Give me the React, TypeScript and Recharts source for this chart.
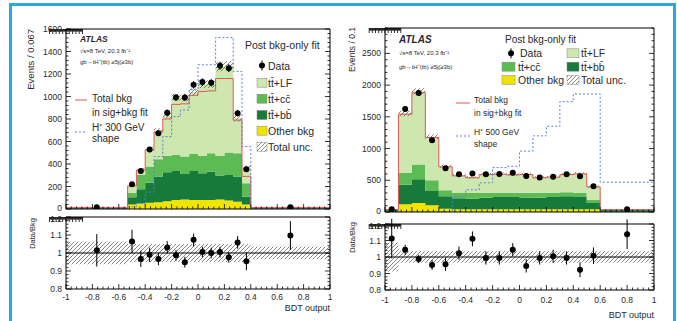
import React from 'react';
import { ComposedChart, Area, Line, Scatter, ErrorBar, XAxis, YAxis, ReferenceLine } from 'recharts';

const FONT = '"Liberation Sans", Arial, Helvetica, sans-serif';
const W = 677;
const H = 321;

const C_LF = '#cde7ae';
const C_CC = '#5cbb52';
const C_BB = '#177a3b';
const C_OTHER = '#f1e500';
const C_RED = '#e0585a';
const C_SIG = '#5d7fd6';
const INK = '#2a2a2a';

// ---------------- Left panel (H+ 300 GeV) ----------------
const leftEdges = [-1, -0.5333, -0.4667, -0.4, -0.3333, -0.2667, -0.2, -0.1333, -0.0667, 0, 0.0667, 0.1333, 0.2, 0.2667, 0.3333, 0.4, 1];
const leftOther = [2, 40, 50, 55, 60, 70, 80, 85, 80, 80, 80, 85, 75, 65, 40, 2];
const leftTtbb = [8, 64, 125, 179, 228, 256, 258, 227, 258, 238, 252, 212, 228, 223, 70, 8];
const leftTtcc = [2, 41, 128, 143, 154, 146, 143, 154, 152, 154, 164, 175, 199, 208, 119, 2];
const leftTtlf = [3, 62, 47, 156, 256, 358, 514, 519, 550, 638, 614, 793, 773, 308, 143, 3];
const leftUnc = [2, 8, 12, 16, 20, 24, 30, 30, 32, 35, 35, 40, 40, 28, 14, 2];
const leftSigBkg = [14, 205, 345, 525, 685, 800, 930, 935, 1010, 1045, 1050, 1160, 1160, 790, 290, 14];
const leftSignal = [0, 20, 50, 150, 466, 644, 822, 880, 1060, 1282, 1282, 1525, 1525, 1223, 555, 0];
const leftPointsX = [-0.7667, -0.5, -0.4333, -0.3667, -0.3, -0.2333, -0.1667, -0.1, -0.0333, 0.0333, 0.1, 0.1667, 0.2333, 0.3, 0.3667, 0.7];
const leftData = [15, 220, 338, 528, 674, 855, 991, 991, 1104, 1128, 1122, 1273, 1252, 852, 353, 15];
const leftDataErr = [6, 15, 18, 23, 26, 29, 31, 31, 33, 34, 33, 36, 35, 29, 19, 6];
const leftRatio = [1.015, 1.064, 0.967, 0.99, 0.967, 1.031, 0.987, 0.949, 1.073, 1.005, 1.0, 1.005, 0.976, 1.059, 0.954, 1.097];
const leftRatioErr = [0.09, 0.065, 0.045, 0.04, 0.035, 0.035, 0.03, 0.03, 0.035, 0.03, 0.03, 0.03, 0.03, 0.035, 0.05, 0.08];
const leftRatioUnc = [0.062, 0.05, 0.05, 0.05, 0.05, 0.05, 0.05, 0.05, 0.05, 0.05, 0.05, 0.05, 0.05, 0.05, 0.05, 0.035];

// ---------------- Right panel (H+ 500 GeV) ----------------
const rightEdges = [-1, -0.9, -0.8, -0.7, -0.6, -0.5, -0.4, -0.3, -0.2, -0.1, 0, 0.1, 0.2, 0.3, 0.4, 0.5, 0.6, 1];
const rightOther = [3, 121, 142, 105, 50, 45, 45, 45, 45, 45, 45, 45, 45, 45, 45, 45, 3];
const rightTtbb = [27, 310, 373, 226, 197, 171, 165, 181, 192, 192, 185, 181, 192, 202, 192, 97, 27];
const rightTtcc = [4, 184, 232, 169, 95, 84, 90, 79, 68, 68, 75, 79, 68, 63, 68, 53, 4];
const rightTtlf = [4, 941, 1153, 687, 379, 281, 245, 293, 299, 289, 295, 240, 250, 288, 305, 207, 3];
const rightUnc = [3, 45, 50, 35, 22, 18, 18, 18, 18, 18, 18, 18, 18, 18, 18, 14, 3];
const rightSigBkg = [36, 1540, 1880, 1175, 712, 570, 540, 590, 595, 585, 590, 540, 548, 590, 600, 395, 36];
const rightSignal = [0, 0, 0, 0, 0, 240, 350, 460, 700, 720, 960, 1200, 1350, 1740, 1860, 1860, 470];
const rightPointsX = [-0.95, -0.85, -0.75, -0.65, -0.55, -0.45, -0.35, -0.25, -0.15, -0.05, 0.05, 0.15, 0.25, 0.35, 0.45, 0.55, 0.8];
const rightData = [42, 1625, 1877, 1130, 689, 594, 605, 594, 600, 620, 568, 542, 557, 594, 563, 405, 42];
const rightDataErr = [7, 40, 43, 34, 26, 24, 25, 24, 24, 25, 24, 23, 24, 24, 24, 20, 7];
const rightRatio = [1.112, 1.044, 0.988, 0.952, 0.956, 1.023, 1.11, 0.994, 0.994, 1.044, 0.946, 0.994, 1.004, 0.994, 0.923, 1.008, 1.138];
const rightRatioErr = [0.12, 0.03, 0.025, 0.03, 0.04, 0.04, 0.045, 0.04, 0.04, 0.04, 0.04, 0.04, 0.04, 0.04, 0.045, 0.05, 0.09];
const rightRatioUnc = [0.088, 0.035, 0.035, 0.035, 0.035, 0.035, 0.035, 0.035, 0.035, 0.035, 0.035, 0.035, 0.035, 0.035, 0.035, 0.035, 0.035];

// ---------------- Axis tick labels ----------------
const xTickLabels = [-1, -0.8, -0.6, -0.4, -0.2, 0, 0.2, 0.4, 0.6, 0.8, 1];
const leftYTickLabels = [0, 200, 400, 600, 800, 1000, 1200, 1400, 1600];
const rightYTickLabels = [0, 500, 1000, 1500, 2000, 2500];
const ratioYTickLabels = [0.8, 0.9, 1, 1.1, 1.2];

function steps(a: number, b: number, s: number): number[] {
  const out: number[] = [];
  const n = Math.round((b - a) / s);
  for (let i = 0; i <= n; i++) out.push(Math.round((a + i * s) * 1e6) / 1e6);
  return out;
}
const xTicksAll = steps(-1, 1, 0.04);
const leftYTicksAll = steps(0, 1600, 40);
const rightYTicksAll = steps(0, 2900, 100);
const ratioYTicksAll = steps(0.8, 1.2, 0.02);

const sum4 = (a: number[], b: number[], c: number[], d: number[]) => a.map((v, i) => v + b[i] + c[i] + d[i]);
const leftTotal = sum4(leftOther, leftTtbb, leftTtcc, leftTtlf);
const rightTotal = sum4(rightOther, rightTtbb, rightTtcc, rightTtlf);

function buildRows(edges: number[], cols: Record<string, number[]>) {
  const rows: any[] = [];
  for (let i = 0; i < edges.length; i++) {
    const bin = Math.min(i, edges.length - 2);
    const row: any = { x: edges[i] };
    for (const k of Object.keys(cols)) row[k] = cols[k][bin];
    rows.push(row);
  }
  return rows;
}

const leftRows = buildRows(leftEdges, {
  other: leftOther, ttbb: leftTtbb, ttcc: leftTtcc, ttlf: leftTtlf,
  sigbkg: leftSigBkg, signal: leftSignal,
  uncLo: leftTotal.map((t, i) => t - leftUnc[i]), uncBand: leftUnc.map((u) => 2 * u),
});
const rightRows = buildRows(rightEdges, {
  other: rightOther, ttbb: rightTtbb, ttcc: rightTtcc, ttlf: rightTtlf,
  sigbkg: rightSigBkg, signal: rightSignal,
  uncLo: rightTotal.map((t, i) => t - rightUnc[i]), uncBand: rightUnc.map((u) => 2 * u),
});
const leftRatioRows = buildRows(leftEdges, {
  uncLo: leftRatioUnc.map((u) => 1 - u), uncBand: leftRatioUnc.map((u) => 2 * u),
});
const rightRatioRows = buildRows(rightEdges, {
  uncLo: rightRatioUnc.map((u) => 1 - u), uncBand: rightRatioUnc.map((u) => 2 * u),
});
const leftPoints = leftPointsX.map((x, i) => ({ x, y: leftData[i], e: leftDataErr[i] }));
const rightPoints = rightPointsX.map((x, i) => ({ x, y: rightData[i], e: rightDataErr[i] }));
const leftRatioPoints = leftPointsX.map((x, i) => ({ x, y: leftRatio[i], e: leftRatioErr[i] }));
const rightRatioPoints = rightPointsX.map((x, i) => ({ x, y: rightRatio[i], e: rightRatioErr[i] }));

type Box = { x0: number; x1: number; y0: number; y1: number };
const LT: Box = { x0: 66, x1: 330, y0: 29, y1: 209 };
const LR: Box = { x0: 66, x1: 330, y0: 217, y1: 289 };
const RT: Box = { x0: 385, x1: 654, y0: 28, y1: 212 };
const RR: Box = { x0: 385, x1: 654, y0: 224, y1: 290 };

// labelShift: [value, dy] pairs nudging edge labels so stacked panels' labels do not collide
function tickFn(kind: 'bottom' | 'top' | 'left' | 'right', majors: number[], label: boolean, off = 10, fs = 8.5, shift: number[] = []) {
  const isMaj = (v: number) => majors.some((m) => Math.abs(m - v) < 1e-6);
  return (p: any) => {
    const v = p.payload ? p.payload.value : 0;
    const maj = isMaj(v);
    const len = maj ? 5 : 2.5;
    const x = p.x;
    const y = p.y;
    let l: any = null;
    let t: any = null;
    if (kind === 'bottom') {
      l = <line x1={x} x2={x} y1={y} y2={y - len} stroke="#000" strokeWidth={0.8} />;
      if (label && maj) t = <text x={x} y={y + off} textAnchor="middle" fontSize={fs} fill={INK} fontFamily={FONT}>{String(v)}</text>;
    } else if (kind === 'top') {
      l = <line x1={x} x2={x} y1={y} y2={y + len} stroke="#000" strokeWidth={0.8} />;
    } else if (kind === 'left') {
      l = <line x1={x} x2={x + len} y1={y} y2={y} stroke="#000" strokeWidth={0.8} />;
      const dy = shift.length === 2 && Math.abs(shift[0] - v) < 1e-6 ? shift[1] : 0;
      if (label && maj) t = <text x={x - 4} y={y + 3 + dy} textAnchor="end" fontSize={fs} fill={INK} fontFamily={FONT}>{String(v)}</text>;
    } else {
      l = <line x1={x} x2={x - len} y1={y} y2={y} stroke="#000" strokeWidth={0.8} />;
    }
    return <g>{l}{t}</g>;
  };
}

function axes(box: Box, yDomain: number[], yMaj: number[], yAll: number[], showX: boolean, xOff: number, shift: number[]) {
  return [
    <XAxis key="xb" xAxisId="b" dataKey="x" type="number" domain={[-1, 1]} allowDataOverflow ticks={xTicksAll} interval={0}
      height={H - box.y1} tickSize={0} tickMargin={0} tickLine={false} axisLine={{ stroke: '#000', strokeWidth: 1 }}
      tick={tickFn('bottom', xTickLabels, showX, xOff)} />,
    <XAxis key="xt" xAxisId="t" orientation="top" type="number" domain={[-1, 1]} allowDataOverflow ticks={xTicksAll} interval={0}
      height={box.y0} tickSize={0} tickMargin={0} tickLine={false} axisLine={{ stroke: '#000', strokeWidth: 1 }}
      tick={tickFn('top', xTickLabels, false)} />,
    <YAxis key="yl" yAxisId="l" type="number" domain={yDomain} allowDataOverflow ticks={yAll} interval={0}
      width={box.x0} tickSize={0} tickMargin={0} tickLine={false} axisLine={{ stroke: '#000', strokeWidth: 1 }}
      tick={tickFn('left', yMaj, true, 10, 8.5, shift)} />,
    <YAxis key="yr" yAxisId="r" orientation="right" type="number" domain={yDomain} allowDataOverflow ticks={yAll} interval={0}
      width={W - box.x1} tickSize={0} tickMargin={0} tickLine={false} axisLine={{ stroke: '#000', strokeWidth: 1 }}
      tick={tickFn('right', yMaj, false)} />,
  ];
}

const dotShape = (p: any) => <circle cx={p.cx} cy={p.cy} r={3} fill="#000" />;

function hatchDef(id: string) {
  return (
    <defs>
      <pattern id={id} patternUnits="userSpaceOnUse" width="4" height="4">
        <path d="M-1,1 l2,-2 M0,4 l4,-4 M3,5 l2,-2" stroke="#555" strokeWidth="0.7" />
      </pattern>
    </defs>
  );
}

const CP = { xAxisId: 'b', yAxisId: 'l', isAnimationActive: false, type: 'stepAfter' as const };

function stackSeries(hatchId: string) {
  return [
    <Area key="o" {...CP} stackId="s" dataKey="other" fill={C_OTHER} fillOpacity={1} stroke="none" />,
    <Area key="b" {...CP} stackId="s" dataKey="ttbb" fill={C_BB} fillOpacity={1} stroke="none" />,
    <Area key="c" {...CP} stackId="s" dataKey="ttcc" fill={C_CC} fillOpacity={1} stroke="none" />,
    <Area key="l" {...CP} stackId="s" dataKey="ttlf" fill={C_LF} fillOpacity={1} stroke="none" />,
    <Area key="u0" {...CP} stackId="u" dataKey="uncLo" fill="none" fillOpacity={0} stroke="none" />,
    <Area key="u1" {...CP} stackId="u" dataKey="uncBand" fill={`url(#${hatchId})`} fillOpacity={1} stroke="none" />,
    <Line key="r" {...CP} dataKey="sigbkg" stroke={C_RED} strokeWidth={1} dot={false} />,
    <Line key="s" {...CP} dataKey="signal" stroke={C_SIG} strokeWidth={1} strokeDasharray="2 2" dot={false} />,
  ];
}

function TopChart({ rows, points, box, yMax, yMaj, yAll, hatchId }: any) {
  return (
    <div style={{ position: 'absolute', left: 0, top: 0 }}>
      <ComposedChart width={W} height={H} data={rows} margin={{ top: 0, right: 0, bottom: 0, left: 0 }}>
        {hatchDef(hatchId)}
        {axes(box, [0, yMax], yMaj, yAll, false, 0, [0, -1.5])}
        {stackSeries(hatchId)}
        <Scatter xAxisId="b" yAxisId="l" data={points} dataKey="y" isAnimationActive={false} shape={dotShape}>
          <ErrorBar dataKey="e" direction="y" width={0} stroke="#000" strokeWidth={1} />
        </Scatter>
      </ComposedChart>
    </div>
  );
}

function RatioChart({ rows, points, box, hatchId, xOff }: any) {
  return (
    <div style={{ position: 'absolute', left: 0, top: 0 }}>
      <ComposedChart width={W} height={H} data={rows} margin={{ top: 0, right: 0, bottom: 0, left: 0 }}>
        {hatchDef(hatchId)}
        {axes(box, [0.8, 1.2], ratioYTickLabels, ratioYTicksAll, true, xOff, [1.2, 1.5])}
        <Area {...CP} stackId="u" dataKey="uncLo" fill="none" fillOpacity={0} stroke="none" />
        <Area {...CP} stackId="u" dataKey="uncBand" fill={`url(#${hatchId})`} fillOpacity={1} stroke="none" />
        <ReferenceLine xAxisId="b" yAxisId="l" y={1} stroke="#000" strokeWidth={1} />
        <Scatter xAxisId="b" yAxisId="l" data={points} dataKey="y" isAnimationActive={false} shape={dotShape}>
          <ErrorBar dataKey="e" direction="y" width={0} stroke="#000" strokeWidth={1} />
        </Scatter>
      </ComposedChart>
    </div>
  );
}

const T = ({ x, y, s, children, anchor = 'start', bold = false, italic = false }: any) => (
  <text x={x} y={y} fontSize={s} textAnchor={anchor} dominantBaseline="central" fill={INK}
    fontWeight={bold ? 'bold' : 'normal'} fontStyle={italic ? 'italic' : 'normal'} fontFamily={FONT}>{children}</text>
);
const RotT = ({ x, y, s, children }: any) => (
  <text transform={`translate(${x},${y}) rotate(-90)`} fontSize={s} textAnchor="end" dominantBaseline="central" fill={INK} fontFamily={FONT}>{children}</text>
);
const Box_ = ({ x, y, w, h, fill }: any) => <rect x={x} y={y - h / 2} width={w} height={h} fill={fill} stroke="#888" strokeWidth={0.5} />;
const DataMark = ({ x, y }: any) => (
  <g>
    <line x1={x} x2={x} y1={y - 5} y2={y + 5} stroke="#000" strokeWidth={1} />
    <circle cx={x} cy={y} r={3} fill="#000" />
  </g>
);

function Overlay() {
  return (
    <svg width={W} height={H} style={{ position: 'absolute', left: 0, top: 0, pointerEvents: 'none' }}>
      {hatchDef('hatchLeg')}
      {/* left */}
      <RotT x={30} y={29} s={9.5}>Events / 0.067</RotT>
      <RotT x={32} y={218} s={7.5}>Data/Bkg</RotT>
      <T x={330} y={308} s={9} anchor="end">BDT output</T>
      <T x={80} y={39} s={8.5} bold italic>ATLAS</T>
      <T x={80} y={50.5} s={6}>√s=8 TeV, 20.3 fb⁻¹</T>
      <T x={80} y={62} s={6}>gb→tH⁺(tb) ≥5j(≥3b)</T>
      <T x={245} y={45} s={10.5}>Post bkg-only fit</T>
      <DataMark x={262} y={65.5} />
      <T x={268} y={65.5} s={10.5}>Data</T>
      <Box_ x={257} y={82.7} w={10} h={9} fill={C_LF} />
      <T x={268} y={82.7} s={10.5}>tt̄+LF</T>
      <Box_ x={257} y={98.7} w={10} h={9} fill={C_CC} />
      <T x={268} y={98.7} s={10.5}>tt̄+cc̄</T>
      <Box_ x={257} y={115} w={10} h={9} fill={C_BB} />
      <T x={268} y={115} s={10.5}>tt̄+bb̄</T>
      <Box_ x={257} y={130.7} w={10} h={9} fill={C_OTHER} />
      <T x={268} y={130.7} s={10.5}>Other bkg</T>
      <Box_ x={257} y={146.7} w={10} h={9} fill="url(#hatchLeg)" />
      <T x={268} y={146.7} s={10.5}>Total unc.</T>
      <line x1={75} x2={87} y1={100} y2={100} stroke={C_RED} strokeWidth={1} />
      <T x={92} y={98} s={10}>Total bkg</T>
      <T x={92} y={112} s={10}>in sig+bkg fit</T>
      <line x1={75} x2={87} y1={132} y2={132} stroke={C_SIG} strokeWidth={1} strokeDasharray="2 2" />
      <T x={92} y={127} s={10}>H⁺ 300 GeV</T>
      <T x={92} y={138} s={10}>shape</T>
      {/* right */}
      <RotT x={352} y={27} s={8.5}>Events / 0.1</RotT>
      <RotT x={352} y={222} s={7.5}>Data/Bkg</RotT>
      <T x={654} y={315} s={9} anchor="end">BDT output</T>
      <T x={399} y={39} s={10} bold italic>ATLAS</T>
      <T x={399} y={53.3} s={6}>√s=8 TeV, 20.3 fb⁻¹</T>
      <T x={399} y={66.7} s={6}>gb→tH⁺(tb) ≥5j(≥3b)</T>
      <T x={505} y={39.5} s={10}>Post bkg-only fit</T>
      <DataMark x={511} y={53.3} />
      <T x={520} y={53.3} s={10.5}>Data</T>
      <Box_ x={567} y={53.3} w={12} h={9} fill={C_LF} />
      <T x={581} y={53.3} s={10.5}>tt̄+LF</T>
      <Box_ x={502} y={66.7} w={13} h={9} fill={C_CC} />
      <T x={518} y={66.7} s={10.5}>tt̄+cc̄</T>
      <Box_ x={567} y={66.7} w={12} h={9} fill={C_BB} />
      <T x={581} y={66.7} s={10.5}>tt̄+bb̄</T>
      <Box_ x={502} y={80} w={13} h={9} fill={C_OTHER} />
      <T x={518} y={80} s={10.5}>Other bkg</T>
      <Box_ x={567} y={80} w={12} h={9} fill="url(#hatchLeg)" />
      <T x={581} y={80} s={10.5}>Total unc.</T>
      <line x1={456} x2={470} y1={103} y2={103} stroke={C_RED} strokeWidth={1} />
      <T x={474} y={100} s={8.5}>Total bkg</T>
      <T x={474} y={113.3} s={8.5}>in sig+bkg fit</T>
      <line x1={456} x2={470} y1={136} y2={136} stroke={C_SIG} strokeWidth={1} strokeDasharray="2 2" />
      <T x={474} y={131.7} s={8.5}>H⁺ 500 GeV</T>
      <T x={474} y={144} s={8.5}>shape</T>
    </svg>
  );
}

export default function App() {
  return (
    <div style={{ position: 'absolute', left: 0, top: 0, width: W, height: H, overflow: 'hidden', background: '#fff', fontFamily: FONT }}>
      <div style={{ position: 'absolute', left: 9, top: 3, width: 661, height: 340, border: '3px solid #2ea8e2', borderBottom: 'none' }} />
      <TopChart rows={leftRows} points={leftPoints} box={LT} yMax={1600} yMaj={leftYTickLabels} yAll={leftYTicksAll} hatchId="hatchLT" />
      <RatioChart rows={leftRatioRows} points={leftRatioPoints} box={LR} hatchId="hatchLR" xOff={10.5} />
      <TopChart rows={rightRows} points={rightPoints} box={RT} yMax={2900} yMaj={rightYTickLabels} yAll={rightYTicksAll} hatchId="hatchRT" />
      <RatioChart rows={rightRatioRows} points={rightRatioPoints} box={RR} hatchId="hatchRR" xOff={13} />
      <Overlay />
    </div>
  );
}
